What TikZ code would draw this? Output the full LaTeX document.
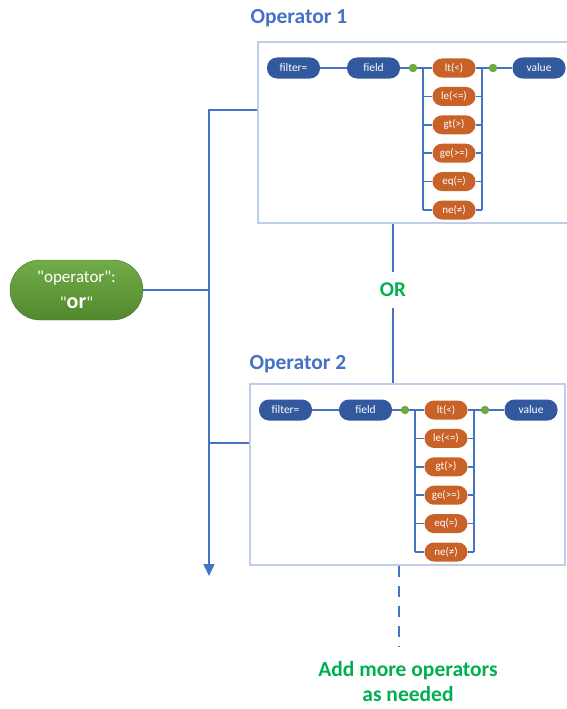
\documentclass[tikz,border=0pt]{standalone}
\usepackage{fontspec}
\setmainfont{Carlito}
\usetikzlibrary{arrows.meta, positioning}

\definecolor{linkblue}{RGB}{68,114,196}
\definecolor{pillblue}{RGB}{50,88,158}
\definecolor{pillorange}{RGB}{200,98,40}
\definecolor{dotgreen}{RGB}{112,168,66}
\definecolor{frameblue}{RGB}{190,206,234}
\definecolor{textgreen}{RGB}{0,176,80}
\definecolor{ortop}{RGB}{114,172,72}
\definecolor{orbot}{RGB}{82,136,46}

\begin{document}
\begin{tikzpicture}[x=1pt, y=-1pt,
    link/.style={draw=linkblue, line width=1.5pt},
    keypill/.style={fill=pillblue, text=white, rounded corners=10pt, minimum width=53pt, minimum height=21pt, inner sep=0pt, font=\fontsize{11.5}{13}\selectfont},
    cmppill/.style={fill=pillorange, text=white, rounded corners=9.5pt, minimum width=43pt, minimum height=19pt, inner sep=0pt, font=\fontsize{11}{13}\selectfont},
    joint/.style={circle, fill=dotgreen, minimum size=8.5pt, inner sep=0pt},
    frame/.style={draw=frameblue, line width=1.2pt, minimum width=315pt, minimum height=181pt, inner sep=0pt},
    optitle/.style={text=linkblue, font=\fontsize{21.5}{25}\selectfont\bfseries, anchor=west, inner sep=0pt},
    orpill/.style={top color=ortop, bottom color=orbot, draw=orbot!85!black, rounded corners=30pt, minimum width=133pt, minimum height=60pt, inner sep=0pt, text=white, align=center, font=\fontsize{17}{19}\selectfont},
  ]

    \useasboundingbox (0,0) rectangle (566,709);

    % The two operator blocks
    \foreach \k/\dx/\dy/\tx/\ty in {1/0/0/-7/23, 2/-8/342/0/19} {
      \begin{scope}[shift={(\dx,\dy)}]
        % frame and title
        \node[frame] (box\k) at (415.5,132.5) {};
        \node[optitle] (title\k) at ([xshift=\tx pt, yshift=\ty pt]box\k.north west) {Operator \k};

        % main row
        \node[keypill] (filt\k) at (293.5,68) {filter=};
        \node[keypill] (fld\k) at (373.5,68) {field};
        \node[joint] (jin\k) at (413,68) {};
        \node[joint] (jout\k) at (493,68) {};
        \node[keypill] (val\k) at (539,68) {value};

        % comparison pills
        \foreach \cmp [count=\i] in {lt(<), le(<=), gt(>), ge(>=), eq(=), ne(≠)}
          \node[cmppill] (cmp\k\i) at (454, 68+28.4*\i-28.4) {\cmp};

        % rails
        \coordinate (railin\k) at (423,68);
        \coordinate (railout\k) at (482,68);
      \end{scope}

      % row wires
      \draw[link] (filt\k) -- (fld\k);
      \draw[link] (fld\k) -- (jin\k) -- (cmp\k1);
      \draw[link] (cmp\k1) -- (jout\k) -- (val\k);
      \draw[link] (railin\k) -- (railin\k |- cmp\k6.west);
      \draw[link] (railout\k) -- (railout\k |- cmp\k6.east);
      \foreach \i in {2,...,6} {
        \draw[link] (railin\k |- cmp\k\i.west) -- (cmp\k\i.west);
        \draw[link] (cmp\k\i.east) -- (railout\k |- cmp\k\i.east);
      }
    }

    % The "or" operator pill
    \node[orpill] (orop) at (76.5,290) {\textquotedbl operator\textquotedbl:\\[7pt]\textquotedbl{\fontsize{22}{22}\selectfont\bfseries or}\textquotedbl};

    % Trunk with branches to both blocks
    \coordinate (trunktop) at (209,110);
    \coordinate (trunkend) at (209,576);
    \coordinate (branch2) at (209,443);
    \draw[link, -{Triangle[length=12pt, width=11pt]}] (trunktop -| box1.west) -- (trunktop) -- (trunkend);
    \draw[link] (orop) -- (orop -| trunktop);
    \draw[link] (branch2) -- (branch2 -| box2.west);

    % OR link between the blocks
    \node[text=textgreen, font=\fontsize{21}{24}\selectfont\bfseries, minimum height=36pt, inner sep=0pt] (orlbl) at (393,290) {OR};
    \draw[link] (orlbl.north |- box1.south) -- (orlbl.north);
    \draw[link] (orlbl.south) -- (orlbl.south |- box2.north);

    % More operators
    \coordinate (moreend) at (399,647);
    \draw[link, dash pattern=on 11pt off 9pt] (moreend |- box2.south) -- (moreend);
    \node[align=center, text=textgreen, font=\fontsize{21.5}{25}\selectfont\bfseries] (morenote) at (408,682) {Add more operators\\as needed};

\end{tikzpicture}
\end{document}
